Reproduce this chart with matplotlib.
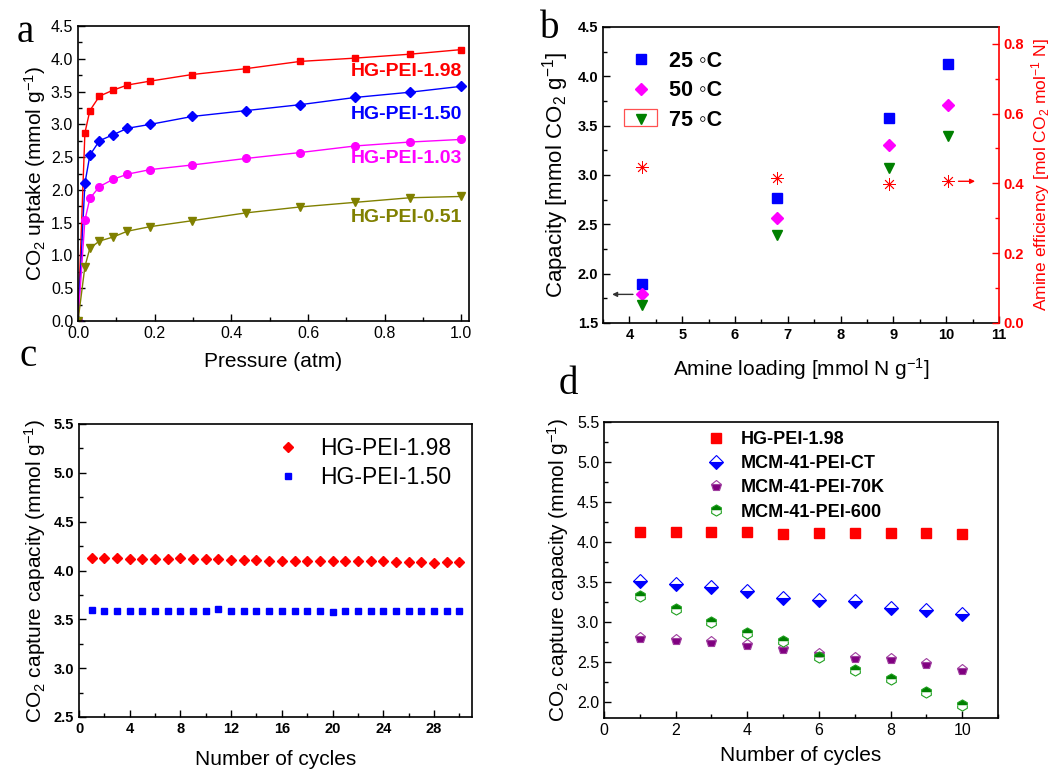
import matplotlib
matplotlib.use("Agg")
import matplotlib.pyplot as plt
from matplotlib.ticker import MultipleLocator
from matplotlib.patches import Rectangle

plt.rcParams['font.family'] = ['Liberation Sans', 'DejaVu Sans']
plt.rcParams['mathtext.fontset'] = 'custom'
plt.rcParams['mathtext.rm'] = 'Liberation Sans'
plt.rcParams['mathtext.it'] = 'Liberation Sans:italic'
plt.rcParams['mathtext.bf'] = 'Liberation Sans:bold'

# ---------------- data ----------------
# Panel a: isotherms
pressure = [0, 0.018, 0.031, 0.056, 0.091, 0.129, 0.189, 0.298, 0.439, 0.580, 0.723, 0.866, 1.0]
iso_198 = [0, 2.87, 3.21, 3.43, 3.52, 3.60, 3.66, 3.76, 3.85, 3.96, 4.01, 4.07, 4.14]
iso_150 = [0, 2.10, 2.53, 2.75, 2.84, 2.94, 3.00, 3.12, 3.21, 3.30, 3.41, 3.49, 3.58]
iso_103 = [0, 1.54, 1.87, 2.05, 2.16, 2.24, 2.31, 2.38, 2.48, 2.57, 2.67, 2.73, 2.77]
iso_051 = [0, 0.83, 1.11, 1.22, 1.28, 1.37, 1.44, 1.53, 1.65, 1.74, 1.81, 1.88, 1.90]
iso_labels = ["HG-PEI-1.98", "HG-PEI-1.50", "HG-PEI-1.03", "HG-PEI-0.51"]

# Panel b: capacity vs amine loading
amine_loading = [4.23, 6.80, 8.92, 10.04]
cap_25 = [1.90, 2.77, 3.58, 4.13]
cap_50 = [1.79, 2.56, 3.30, 3.71]
cap_75 = [1.68, 2.39, 3.07, 3.40]
amine_eff = [0.446, 0.416, 0.397, 0.406]
temp_labels = ["25 \u25e6C", "50 \u25e6C", "75 \u25e6C"]

# Panel c: 30 cycles
cycles_c = list(range(1, 31))
cyc_198 = [4.123, 4.123, 4.123, 4.119, 4.116, 4.116, 4.116, 4.133, 4.113, 4.113,
           4.113, 4.109, 4.109, 4.106, 4.095, 4.102, 4.102, 4.102, 4.099, 4.099,
           4.099, 4.099, 4.095, 4.095, 4.092, 4.092, 4.092, 4.072, 4.085, 4.085]
cyc_150 = [3.593, 3.590, 3.590, 3.590, 3.590, 3.590, 3.590, 3.590, 3.590, 3.590,
           3.604, 3.590, 3.590, 3.590, 3.590, 3.590, 3.590, 3.590, 3.590, 3.580,
           3.590, 3.590, 3.590, 3.590, 3.590, 3.590, 3.590, 3.590, 3.590, 3.590]
cyc_c_labels = ["HG-PEI-1.98", "HG-PEI-1.50"]

# Panel d: 10 cycles comparison
cycles_d = list(range(1, 11))
d_hg198 = [4.13, 4.13, 4.13, 4.13, 4.105, 4.113, 4.113, 4.113, 4.117, 4.097]
d_ct = [3.516, 3.47, 3.437, 3.382, 3.299, 3.278, 3.257, 3.173, 3.148, 3.102]
d_70k = [2.802, 2.781, 2.747, 2.71, 2.668, 2.605, 2.555, 2.543, 2.476, 2.40]
d_600 = [3.324, 3.157, 3.006, 2.864, 2.764, 2.563, 2.405, 2.288, 2.125, 1.958]
d_labels = ["HG-PEI-1.98", "MCM-41-PEI-CT", "MCM-41-PEI-70K", "MCM-41-PEI-600"]

# ---------------- figure ----------------
W, H = 1057, 774
fig = plt.figure(figsize=(W / 100, H / 100), dpi=100)


def px_axes(l, t, r, b):
    return fig.add_axes([l / W, 1 - b / H, (r - l) / W, (b - t) / H])


def style(ax, bold=False, size=11.5):
    ax.tick_params(which='both', direction='in', top=False, right=False)
    ax.tick_params(which='major', length=5, width=1, labelsize=size)
    ax.tick_params(which='minor', length=3, width=1)
    for s in ax.spines.values():
        s.set_linewidth(1.2)
    if bold:
        for lab in ax.get_xticklabels() + ax.get_yticklabels():
            lab.set_fontweight('bold')


RED = '#ff0000'
BLUE = '#0000ff'
MAG = '#ff00ff'
OLIVE = '#808000'
GREEN = '#008000'
PURPLE = '#800080'

# ---- panel a ----
axa = px_axes(78, 26, 469, 321)
for y, c, m, ms in [(iso_198, RED, 's', 5), (iso_150, BLUE, 'D', 5),
                    (iso_103, MAG, 'o', 5.5), (iso_051, OLIVE, 'v', 6)]:
    axa.plot(pressure, y, color=c, marker=m, ms=ms, lw=1)
axa.set_xlim(0, 1.02)
axa.set_ylim(0, 4.5)
axa.xaxis.set_major_locator(MultipleLocator(0.2))
axa.xaxis.set_minor_locator(MultipleLocator(0.1))
axa.yaxis.set_major_locator(MultipleLocator(0.5))
axa.yaxis.set_minor_locator(MultipleLocator(0.25))
axa.xaxis.set_major_formatter(matplotlib.ticker.FormatStrFormatter('%.1f'))
axa.yaxis.set_major_formatter(matplotlib.ticker.FormatStrFormatter('%.1f'))
style(axa)
for lab, yy, c in zip(iso_labels, [3.81, 3.15, 2.48, 1.58], [RED, BLUE, MAG, OLIVE]):
    axa.text(1.003, yy, lab, color=c, fontsize=14, fontweight='bold', ha='right', va='center')
axa.set_xlabel("Pressure (atm)", fontsize=15, labelpad=8)
axa.set_ylabel("CO$_2$ uptake (mmol g$^{-1}$)", fontsize=15, labelpad=2)

# ---- panel b ----
axb = px_axes(603, 27, 999, 323)
h25, = axb.plot(amine_loading, cap_25, 's', color=BLUE, ms=6.5, ls='none')
h50, = axb.plot(amine_loading, cap_50, 'D', color=MAG, ms=6.5, ls='none')
h75, = axb.plot(amine_loading, cap_75, 'v', color=GREEN, ms=7.5, ls='none')
axb.set_xlim(3.5, 11)
axb.set_ylim(1.5, 4.5)
axb.xaxis.set_major_locator(MultipleLocator(1))
axb.xaxis.set_minor_locator(MultipleLocator(0.5))
axb.yaxis.set_major_locator(MultipleLocator(0.5))
axb.yaxis.set_minor_locator(MultipleLocator(0.25))
axb.yaxis.set_major_formatter(matplotlib.ticker.FormatStrFormatter('%.1f'))
style(axb, bold=True, size=10.5)
axb.spines['right'].set_visible(False)
axb2 = axb.twinx()
axb2.plot(amine_loading, amine_eff, marker=(8, 2, 0), color=RED, ms=9, mew=0.6, ls='none')
axb2.set_ylim(0, 0.848)
axb2.yaxis.set_major_locator(MultipleLocator(0.2))
axb2.yaxis.set_minor_locator(MultipleLocator(0.1))
axb2.yaxis.set_major_formatter(matplotlib.ticker.FormatStrFormatter('%.1f'))
axb2.tick_params(which='both', direction='in', colors=RED, left=False)
axb2.tick_params(which='major', length=5, width=1, labelsize=10.5)
axb2.tick_params(which='minor', length=3, width=1)
for lab in axb2.get_yticklabels():
    lab.set_fontweight('bold')
axb2.spines['right'].set_color(RED)
axb2.spines['right'].set_linewidth(1.2)
for s in ['left', 'top', 'bottom']:
    axb2.spines[s].set_visible(False)
axb2.set_ylabel("Amine efficiency [mol CO$_2$ mol$^{-1}$ N]", color=RED, fontsize=12.5, labelpad=3)
axb.annotate('', xy=(3.62, 1.79), xytext=(4.12, 1.79),
             arrowprops=dict(arrowstyle='-|>', color='#333333', lw=1, mutation_scale=7))
axb2.annotate('', xy=(10.6, 0.406), xytext=(10.18, 0.406),
              arrowprops=dict(arrowstyle='-|>', color=RED, lw=1, mutation_scale=7))
legb = axb.legend([h25, h50, h75], temp_labels, loc='upper left', bbox_to_anchor=(0.015, 0.985),
                  frameon=False, prop={'weight': 'bold', 'size': 15.5}, handlelength=1.2,
                  handletextpad=0.7, labelspacing=0.4)
axb.add_patch(Rectangle((0.053, 0.666), 0.083, 0.057, transform=axb.transAxes,
                        fill=False, edgecolor='#ff5050', lw=0.9))
axb.set_xlabel("Amine loading [mmol N g$^{-1}$]", fontsize=15, labelpad=10)
axb.set_ylabel("Capacity [mmol CO$_2$ g$^{-1}$]", fontsize=16, labelpad=5)

# ---- panel c ----
axc = px_axes(79, 424, 472, 717)
axc.plot(cycles_c, cyc_198, 'D', color=RED, ms=5.5, ls='none', label=cyc_c_labels[0])
axc.plot(cycles_c, cyc_150, 's', color=BLUE, ms=5, ls='none', label=cyc_c_labels[1])
axc.set_xlim(0, 31)
axc.set_ylim(2.5, 5.5)
axc.xaxis.set_major_locator(MultipleLocator(4))
axc.xaxis.set_minor_locator(MultipleLocator(2))
axc.yaxis.set_major_locator(MultipleLocator(0.5))
axc.yaxis.set_minor_locator(MultipleLocator(0.25))
axc.yaxis.set_major_formatter(matplotlib.ticker.FormatStrFormatter('%.1f'))
style(axc, bold=True, size=10.5)
axc.legend(loc='upper right', bbox_to_anchor=(1.0, 1.025), frameon=False, fontsize=16.5,
           handlelength=1.0, handletextpad=0.9, labelspacing=0.25)
axc.set_xlabel("Number of cycles", fontsize=15, labelpad=10)
axc.set_ylabel("CO$_2$ capture capacity (mmol g$^{-1}$)", fontsize=15, labelpad=4)

# ---- panel d ----
axd = px_axes(604, 422, 998, 718)
axd.plot(cycles_d, d_hg198, 's', color=RED, ms=7.5, ls='none', label=d_labels[0])
axd.plot(cycles_d, d_ct, 'D', color=BLUE, mec=BLUE, ms=7.5, ls='none', fillstyle='bottom',
         markerfacecoloralt='white', mew=0.8, label=d_labels[1])
axd.plot(cycles_d, d_70k, 'p', color=PURPLE, mec='#a040a0', ms=8, ls='none', fillstyle='bottom',
         markerfacecoloralt='white', mew=0.8, label=d_labels[2])
axd.plot(cycles_d, d_600, 'h', color=GREEN, mec='#20a020', ms=8, ls='none', fillstyle='top',
         markerfacecoloralt='white', mew=0.8, label=d_labels[3])
axd.set_xlim(0, 11)
axd.set_ylim(1.8, 5.5)
axd.xaxis.set_major_locator(MultipleLocator(2))
axd.xaxis.set_minor_locator(MultipleLocator(1))
axd.yaxis.set_major_locator(MultipleLocator(0.5))
axd.yaxis.set_minor_locator(MultipleLocator(0.25))
axd.yaxis.set_major_formatter(matplotlib.ticker.FormatStrFormatter('%.1f'))
style(axd, size=11.5)
axd.legend(loc='upper left', bbox_to_anchor=(0.22, 1.025), frameon=False,
           prop={'weight': 'bold', 'size': 13}, handlelength=1.0, handletextpad=0.9,
           labelspacing=0.4)
axd.set_xlabel("Number of cycles", fontsize=15, labelpad=6)
axd.set_ylabel("CO$_2$ capture capacity (mmol g$^{-1}$)", fontsize=15, labelpad=4)

# panel letters
for txt, x, y in [('a', 25, 32), ('b', 550, 28), ('c', 28, 357), ('d', 568, 384)]:
    fig.text(x / W, 1 - y / H, txt, fontsize=28, family='Liberation Serif',
             ha='center', va='center')

fig.savefig('out.png', dpi=100)
